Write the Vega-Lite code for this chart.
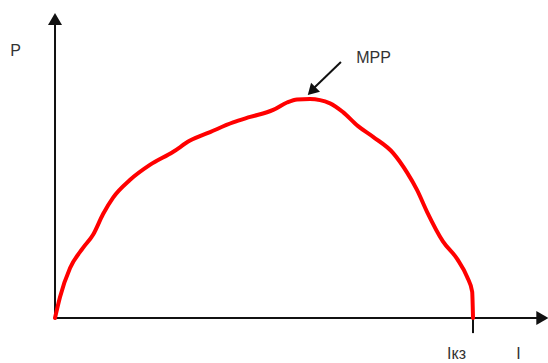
{
  "$schema": "https://vega.github.io/schema/vega-lite/v6.json",
  "width": 548,
  "height": 363,
  "autosize": "none",
  "padding": 0,
  "background": "white",
  "config": {"view": {"stroke": null}},
  "datasets": {
    "curve": [
      {"i": 0, "p": 0},
      {"i": 1.2, "p": 9.6},
      {"i": 3.6, "p": 22.8},
      {"i": 6.7, "p": 32.0},
      {"i": 9.1, "p": 38.0},
      {"i": 11.5, "p": 47.5},
      {"i": 13.9, "p": 55.0},
      {"i": 17.9, "p": 63.0},
      {"i": 22.7, "p": 69.9},
      {"i": 28.2, "p": 75.8},
      {"i": 32.3, "p": 81.0},
      {"i": 37.1, "p": 84.9},
      {"i": 42.6, "p": 89.3},
      {"i": 46.7, "p": 91.8},
      {"i": 52.2, "p": 95.0},
      {"i": 55.5, "p": 98.4},
      {"i": 57.9, "p": 99.8},
      {"i": 61.0, "p": 100},
      {"i": 65.8, "p": 98.0},
      {"i": 68.9, "p": 94.0},
      {"i": 72.5, "p": 87.6},
      {"i": 76.1, "p": 82.7},
      {"i": 80.9, "p": 75.3},
      {"i": 84.2, "p": 66.5},
      {"i": 86.6, "p": 58.5},
      {"i": 89.0, "p": 48.5},
      {"i": 92.8, "p": 35.0},
      {"i": 96.2, "p": 27.0},
      {"i": 98.6, "p": 18.7},
      {"i": 99.8, "p": 12.0},
      {"i": 100, "p": 0}
    ],
    "axes": [
      {"x": 0, "y": 0, "x2": 0, "y2": 134},
      {"x": 0, "y": 0, "x2": 116.3, "y2": 0},
      {"x": 100, "y": 2.3, "x2": 100, "y2": -6.9},
      {"x": 68.4, "y": 116.9, "x2": 61.7, "y2": 104.6}
    ],
    "heads": [
      {"x": 0, "y": 136.5, "shape": "triangle-up", "angle": 0, "size": 196},
      {"x": 116.6, "y": 0, "shape": "triangle-right", "angle": 0, "size": 196},
      {"x": 61.4, "y": 103.6, "shape": "triangle-up", "angle": 225, "size": 160}
    ],
    "labels": [
      {"x": -9.45, "y": 122.1, "text": "P"},
      {"x": 76.2, "y": 118.5, "text": "MPP"},
      {"x": 96.05, "y": -16.6, "text": "Iкз"},
      {"x": 110.9, "y": -16.6, "text": "I"}
    ]
  },
  "layer": [
    {
      "data": {"name": "axes"},
      "mark": {"type": "rule", "color": "#111", "strokeWidth": 2},
      "encoding": {
        "x": {"field": "x", "type": "quantitative", "scale": {"domain": [-13.16, 117.94], "nice": false, "zero": false}, "axis": null},
        "y": {"field": "y", "type": "quantitative", "scale": {"domain": [-20.55, 145.2], "nice": false, "zero": false}, "axis": null},
        "x2": {"field": "x2"},
        "y2": {"field": "y2"}
      }
    },
    {
      "data": {"name": "heads"},
      "mark": {"type": "point", "filled": true, "color": "#111", "opacity": 1, "strokeWidth": 0},
      "encoding": {
        "x": {"field": "x", "type": "quantitative", "scale": {"domain": [-13.16, 117.94], "nice": false, "zero": false}, "axis": null},
        "y": {"field": "y", "type": "quantitative", "scale": {"domain": [-20.55, 145.2], "nice": false, "zero": false}, "axis": null},
        "shape": {"field": "shape", "type": "nominal", "scale": null, "legend": null},
        "angle": {"field": "angle", "type": "quantitative", "scale": null},
        "size": {"field": "size", "type": "quantitative", "scale": null, "legend": null}
      }
    },
    {
      "data": {"name": "curve"},
      "mark": {"type": "line", "color": "#ff0000", "strokeWidth": 4, "interpolate": "monotone", "strokeCap": "round"},
      "encoding": {
        "x": {"field": "i", "type": "quantitative", "scale": {"domain": [-13.16, 117.94], "nice": false, "zero": false}, "axis": null},
        "y": {"field": "p", "type": "quantitative", "scale": {"domain": [-20.55, 145.2], "nice": false, "zero": false}, "axis": null},
        "order": {"field": "i"}
      }
    },
    {
      "data": {"name": "labels"},
      "mark": {"type": "text", "font": "Liberation Sans", "fontSize": 16, "color": "#333", "align": "center", "baseline": "middle"},
      "encoding": {
        "x": {"field": "x", "type": "quantitative", "scale": {"domain": [-13.16, 117.94], "nice": false, "zero": false}, "axis": null},
        "y": {"field": "y", "type": "quantitative", "scale": {"domain": [-20.55, 145.2], "nice": false, "zero": false}, "axis": null},
        "text": {"field": "text"}
      }
    }
  ]
}
